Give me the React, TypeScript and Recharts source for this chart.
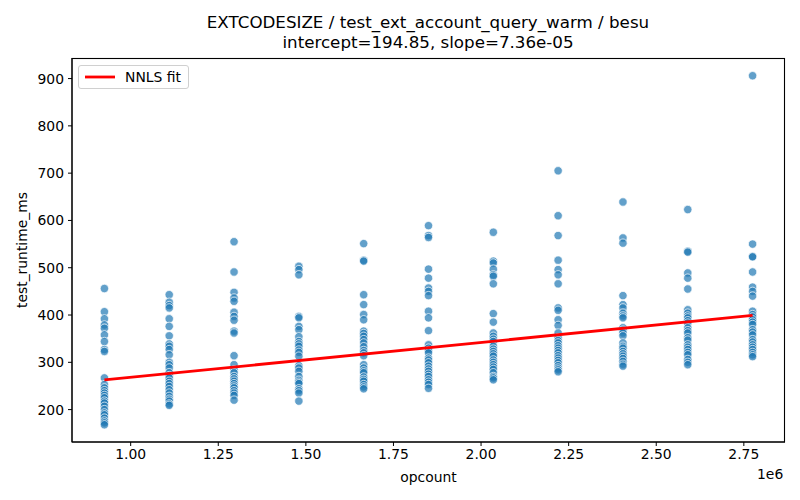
import {
  Scatter,
  ScatterChart,
  XAxis,
  YAxis,
} from "recharts";

// opcount levels (one column of runs per level)
const opcounts = [
  925000, 1110000, 1295000, 1480000, 1665000, 1850000, 2035000, 2220000,
  2405000, 2590000, 2775000,
];

// test_runtime_ms per opcount level
const runtimes925k = [456, 407, 392, 379, 372, 358, 344, 327, 323, 267, 253, 246, 240, 235, 230, 225, 218, 214, 207, 200, 193, 189, 182, 176, 172, 168];
const runtimes1110k = [443, 427, 420, 415, 392, 376, 356, 339, 334, 327, 316, 300, 295, 288, 278, 272, 267, 260, 255, 249, 242, 235, 228, 222, 218, 212, 209];
const runtimes1295k = [555, 491, 448, 436, 429, 406, 397, 389, 366, 362, 314, 295, 284, 278, 270, 265, 260, 255, 250, 246, 240, 235, 230, 220];
const runtimes1480k = [503, 496, 485, 397, 394, 376, 369, 354, 344, 339, 334, 326, 321, 313, 293, 288, 281, 270, 262, 258, 255, 244, 240, 235, 218];
const runtimes1665k = [551, 516, 514, 443, 422, 401, 390, 366, 361, 355, 348, 341, 333, 325, 320, 314, 295, 288, 282, 278, 269, 264, 260, 253, 248, 244];
const runtimes1850k = [589, 568, 564, 497, 478, 457, 450, 441, 408, 394, 367, 337, 330, 325, 320, 309, 305, 299, 292, 286, 281, 275, 270, 263, 258, 253, 245];
const runtimes2035k = [575, 514, 510, 497, 485, 482, 466, 403, 385, 362, 355, 349, 344, 334, 328, 323, 318, 313, 305, 300, 295, 290, 285, 278, 270, 267, 263];
const runtimes2220k = [705, 610, 568, 516, 496, 485, 466, 415, 410, 390, 378, 362, 352, 346, 341, 335, 330, 325, 320, 314, 309, 304, 299, 293, 288, 284, 280];
const runtimes2405k = [639, 563, 552, 441, 422, 415, 404, 398, 394, 373, 368, 362, 356, 341, 334, 330, 323, 318, 313, 308, 302, 296, 292];
const runtimes2590k = [623, 535, 533, 489, 478, 455, 411, 404, 398, 394, 388, 383, 373, 367, 362, 352, 347, 337, 332, 327, 321, 316, 306, 300, 295];
const runtimes2775k = [906, 550, 524, 523, 491, 459, 450, 440, 408, 401, 396, 390, 385, 380, 369, 364, 358, 348, 343, 337, 332, 327, 321, 316, 312];

const runtimeColumns = [
  runtimes925k, runtimes1110k, runtimes1295k, runtimes1480k, runtimes1665k,
  runtimes1850k, runtimes2035k, runtimes2220k, runtimes2405k, runtimes2590k,
  runtimes2775k,
];

// NNLS fit endpoints (intercept=194.85, slope=7.36e-05)
const fitOpcounts = [925000, 2775000];
const fitRuntimes = [262.9, 399.1];

const xTicks = [1000000, 1250000, 1500000, 1750000, 2000000, 2250000, 2500000, 2750000];
const yTicks = [200, 300, 400, 500, 600, 700, 800, 900];

const points = runtimeColumns.flatMap((col, i) =>
  col.map((ms) => ({ opcount: opcounts[i], ms })),
);
const fitPoints = fitOpcounts.map((opcount, i) => ({ opcount, ms: fitRuntimes[i] }));

const FONT = "'DejaVu Sans', sans-serif";
const X_DOMAIN: [number, number] = [832500, 2867500];
const Y_DOMAIN: [number, number] = [131.5, 943.5];

const dot = (props: any) => (
  <circle
    cx={props.cx}
    cy={props.cy}
    r={4.2}
    fill="#1f77b4"
    fillOpacity={0.7}
    stroke="#ffffff"
    strokeWidth={0.7}
  />
);

// ylabel, centred on the plot's vertical middle like matplotlib does
const yLabel = (props: any) => {
  const { viewBox } = props;
  const cx = viewBox.x + 22;
  const cy = viewBox.y + viewBox.height / 2;
  return (
    <text
      x={cx}
      y={cy}
      transform={`rotate(-90 ${cx} ${cy})`}
      textAnchor="middle"
      dominantBaseline="central"
      fill="#000"
      fontSize={13.9}
      fontFamily={FONT}
    >
      test_runtime_ms
    </text>
  );
};

function FitLegend() {
  return (
    <div
      style={{
        position: "absolute",
        left: 78,
        top: 65,
        display: "flex",
        alignItems: "center",
        border: "1px solid #d0d0d0",
        borderRadius: 3,
        background: "rgba(255,255,255,0.8)",
        padding: "3px 7px 3px 4px",
        fontFamily: FONT,
        fontSize: 13.9,
        color: "#000",
        zIndex: 3,
      }}
    >
      <svg width={34} height={10} style={{ marginRight: 8 }}>
        <line x1={2} y1={5} x2={32} y2={5} stroke="red" strokeWidth={2.8} />
      </svg>
      NNLS fit
    </div>
  );
}

// axes box (all four matplotlib spines), laid over the chart
function Frame() {
  return (
    <svg
      width={800}
      height={500}
      style={{ position: "absolute", left: 0, top: 0, zIndex: 2, pointerEvents: "none" }}
    >
      <rect x={72} y={58.5} width={712.5} height={383.5} fill="none" stroke="#000" strokeWidth={1.1} />
    </svg>
  );
}

export default function App() {
  return (
    <div style={{ position: "absolute", left: 0, top: 0, width: 800, height: 500, background: "#fff", fontFamily: FONT }}>
      <ScatterChart
        width={800}
        height={500}
        margin={{ top: 58, right: 15, bottom: 0, left: 0 }}
        style={{ position: "absolute", left: 0, top: 0 }}
      >
        <XAxis
          dataKey="opcount"
          type="number"
          domain={X_DOMAIN}
          ticks={xTicks}
          allowDataOverflow
          height={58}
          tickSize={4}
          tickMargin={3}
          stroke="#000"
          tick={{ fill: "#000", fontSize: 13.9, fontFamily: FONT }}
          tickFormatter={(v: number) => (v / 1e6).toFixed(2)}
          label={{ value: "opcount", position: "insideBottom", offset: 18, fill: "#000", fontSize: 13.9, fontFamily: FONT }}
        />
        <YAxis
          dataKey="ms"
          type="number"
          domain={Y_DOMAIN}
          ticks={yTicks}
          allowDataOverflow
          width={72}
          tickSize={4}
          tickMargin={4}
          stroke="#000"
          tick={{ fill: "#000", fontSize: 13.9, fontFamily: FONT }}
          label={yLabel}
        />
        <Scatter data={points} shape={dot} isAnimationActive={false} />
        <Scatter
          data={fitPoints}
          line={{ stroke: "red", strokeWidth: 2.8 }}
          lineType="joint"
          shape={() => <g />}
          isAnimationActive={false}
        />
      </ScatterChart>
      <Frame />
      <div style={{ position: "absolute", left: 128, width: 600, top: 12, textAlign: "center", fontSize: 16.7, lineHeight: "20px", color: "#000", whiteSpace: "nowrap", zIndex: 3 }}>
        <div>EXTCODESIZE / test_ext_account_query_warm / besu</div>
        <div>intercept=194.85, slope=7.36e-05</div>
      </div>
      <div style={{ position: "absolute", left: 757, top: 466, fontSize: 13.9, color: "#000", zIndex: 3 }}>1e6</div>
      <FitLegend />
    </div>
  );
}
